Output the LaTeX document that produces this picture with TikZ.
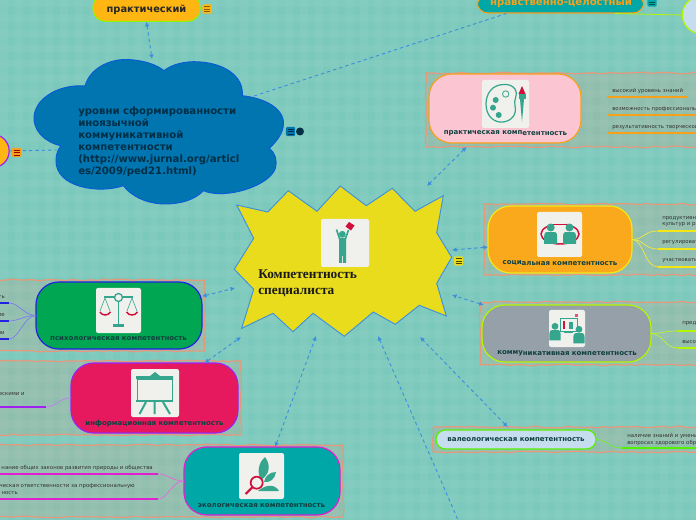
\documentclass[tikz,border=0pt]{standalone}
\usepackage{fontspec}
\setmainfont{DejaVu Sans}
\newfontfamily\ctrfont{Liberation Serif}
\usetikzlibrary{arrows.meta,decorations.pathmorphing,calc}
\definecolor{bg}{HTML}{7BC8BC}
\definecolor{lnkc}{HTML}{3F90DC}
\definecolor{framec}{HTML}{E8987A}
\definecolor{tealic}{HTML}{36A58E}
\definecolor{redic}{HTML}{D0103A}
\definecolor{paper}{HTML}{F0F0EC}
\definecolor{dark}{HTML}{10403F}
\definecolor{cloudc}{HTML}{0075B0}
\definecolor{clouddk}{HTML}{0A5BD8}
\definecolor{ambr}{HTML}{FFB612}
\definecolor{socc}{HTML}{FBA91C}
\definecolor{star}{HTML}{E8DC1C}
\definecolor{teal2}{HTML}{00A7A7}
\definecolor{ornge}{HTML}{F7A01C}
\definecolor{yel}{HTML}{F5E616}
\definecolor{limec}{HTML}{B4F500}
\definecolor{grn}{HTML}{55F000}
\definecolor{blu}{HTML}{2222E0}
\definecolor{prp}{HTML}{A020F0}
\definecolor{mgnt}{HTML}{E020D0}
\definecolor{pinkc}{HTML}{FCC5D2}
\definecolor{grayc}{HTML}{95A0A8}
\definecolor{paleb}{HTML}{C5DDEE}
\definecolor{psyc}{HTML}{00A651}
\definecolor{infc}{HTML}{E6195E}
\tikzset{
  x=0.75pt,y=-0.75pt,
  lnk/.style={draw=lnkc,line width=.7pt,dash pattern=on 2.6pt off 2.2pt},
  lnkb/.style={lnk,{Latex[length=3.4pt,width=3.6pt]}-{Latex[length=3.4pt,width=3.6pt]}},
  frm/.style={draw=framec,line width=.9pt,fill=framec,fill opacity=.2,draw opacity=1,inner sep=0pt,outer sep=0pt,
     decorate,decoration={random steps,segment length=4.5pt,amplitude=.6pt}},
  comp/.style={draw=#1,line width=.9pt,rounded corners=17pt,inner sep=0pt,outer sep=0pt},
  ttl/.style={text=dark,font=\bfseries\fontsize{5.25pt}{6pt}\selectfont,inner sep=0pt},
  sm/.style={text=black!80,font=\fontsize{4.05pt}{5pt}\selectfont,inner sep=0pt,align=left},
  iconbg/.style={fill=paper,draw=none,rounded corners=1.5pt},
  ic/.style={draw=tealic,line width=.9pt},
  notebox/.style={fill=#1,draw=none,rounded corners=1pt,minimum width=7pt,minimum height=7pt,inner sep=0pt},
}
\newcommand{\notelines}[2]{\foreach \dy in {-2.5,0,2.5}{\draw[#2,line width=.55pt] ($(#1)+(-3,\dy)$)--($(#1)+(3,\dy)$);}}
\newcommand{\pers}[3]{\begin{scope}[shift={(#1,#2)},scale=#3]
  \fill[tealic] (0,-5.5) circle (4);
  \fill[tealic] (-6.5,11) -- (-6.5,3) .. controls (-6.5,-2) and (-3,-1) .. (0,-1) .. controls (3,-1) and (6.5,-2) .. (6.5,3) -- (6.5,11) -- cycle;
\end{scope}}
\begin{document}
\begin{tikzpicture}
\pgfmathsetseed{7}
\clip (0,0) rectangle (696,520);
\fill[bg] (0,0) rectangle (696,520);
\foreach \i in {0,...,46}{\fill[white,opacity=.04] (\i*15,0) rectangle ++(7.5,520);}
\foreach \i in {0,...,34}{\fill[white,opacity=.04] (0,\i*15) rectangle ++(696,7.5);}

% frames
\node[frm,minimum width=205.5pt,minimum height=55.5pt] (fprac) at (563,110) {};
\node[frm,minimum width=162pt,minimum height=53.25pt] (fsoc) at (592,239.5) {};
\node[frm,minimum width=165pt,minimum height=47.25pt] (fcomm) at (590,333.5) {};
\node[frm,minimum width=200pt,minimum height=18.75pt] (fval) at (566.5,439.5) {};
\node[frm,minimum width=157.5pt,minimum height=53.25pt] (fpsy) at (100,315.5) {};
\node[frm,minimum width=184.5pt,minimum height=55.5pt] (finf) at (118,398) {};
\node[frm,minimum width=261pt,minimum height=54pt] (feco) at (169,481) {};

% top nodes
\node[fill=ambr,draw=limec!80!green,line width=.8pt,rounded corners=9pt,minimum width=80.25pt,minimum height=20pt,inner sep=0pt] (prak) at (146.5,8) {};
\node[font=\bfseries\fontsize{7.4pt}{8pt}\selectfont,text=black!85,inner sep=0pt] (prakt) at (146.5,9.5) {практический};
\node[fill=teal2,draw=ornge,line width=.8pt,rounded corners=8pt,minimum width=125pt,minimum height=13.5pt,inner sep=0pt] (nrav) at (560.5,4) {};
\node[font=\bfseries\fontsize{7.6pt}{8pt}\selectfont,text=ornge,inner sep=0pt] (nravt) at (561,2.5) {нравственно-целостный};
\node[circle,fill=ambr,draw=prp,line width=.9pt,minimum size=25pt,inner sep=0pt] (leftc) at (-7.5,151) {};
\node[circle,fill=paleb,draw=limec,line width=.9pt,minimum size=28pt,inner sep=0pt] (rightc) at (701,15) {};

% named ends
\coordinate (cl-top) at (152,59);
\coordinate (cl-r) at (254,96);
\coordinate (cl-l) at (57,150);
\coordinate (s-prac) at (427,186);
\coordinate (s-soc) at (452,250);
\coordinate (s-comm) at (452,295);
\coordinate (s-psy) at (235,288);
\coordinate (s-inf) at (241,337);
\coordinate (s-eco) at (316,336);
\coordinate (s-val) at (420,337);
\coordinate (s-bot) at (378,336);
\coordinate (bot-end) at (458,520);

% connectors under shapes
\draw[lnkb] (prak.south) -- (cl-top);
\draw[lnk] (cl-r) -- (nrav.190);
\draw[lnk] (leftc.east) -- (cl-l);
\draw[limec,line width=.6pt] (nrav.350) -- (rightc.west);

% cloud
\path[fill=cloudc,draw=clouddk,line width=.7pt] (85,86)
  .. controls (90,68) and (110,59) .. (127,59.5)
  .. controls (142,60) and (156,64) .. (164,70.7)
  .. controls (172,64) and (186,61) .. (198,61.8)
  .. controls (224,63) and (244,76) .. (242.3,95.7)
  .. controls (264,98) and (284,108) .. (283.5,124)
  .. controls (283,134) and (276,142) .. (269.3,148.3)
  .. controls (276,154) and (277,160) .. (275.5,168)
  .. controls (270,186) and (225,200) .. (203.3,190.7)
  .. controls (195,200) and (180,204) .. (165,204)
  .. controls (148,204) and (132,197) .. (123.3,185.7)
  .. controls (100,194) and (55,188) .. (56,160)
  .. controls (56,154) and (58,150) .. (60.7,145.7)
  .. controls (44,142) and (33,130) .. (34,116.5)
  .. controls (36,96) and (62,84) .. (85,86) -- cycle;
\node[anchor=north west,inner sep=0pt,align=left,text=cloudc!40!black,font=\bfseries\fontsize{7.6pt}{9pt}\selectfont] (cloudt) at (78,106.5) {уровни сформированности\\иноязычной\\коммуникативной\\компетентности\\(http://www.jurnal.org/articl\\es/2009/ped21.html)};

% star
\path[fill=star,draw=lnkc,line width=.7pt] (236.7,205)--(267.7,212)--(288.3,190.7)--(317,211.3)--(340.3,186)--(366.3,205.7)--(392.3,188.3)--(415,211.3)--(443.3,195.7)--(436.7,232.7)--(451.7,257.3)--(436.7,283.3)--(446.3,316)--(419.3,305.3)--(395.3,324.3)--(373.3,312)--(344.3,336.3)--(313,313.3)--(293,331.7)--(273,313.3)--(241.7,328.3)--(253.7,289.3)--(234.3,269.3)--(253.7,238.3)--cycle;
\node[anchor=north west,inner sep=0pt,align=left,text=black!90,font=\ctrfont\bfseries\fontsize{10pt}{12pt}\selectfont] (ctr) at (258,270) {Компетентность\\специалиста};

% branches
\draw[ornge,line width=1.5pt] (607,97.5)--(688,97.5) (607,115)--(700,115) (607,133)--(700,133);

% competence boxes
\node[comp=ornge,fill=pinkc,minimum width=114pt,minimum height=51.75pt] (prac) at (505,108.5) {};
\node[comp=yel,fill=socc,minimum width=108pt,minimum height=50.25pt] (soc) at (560,239.5) {};
\node[comp=limec,fill=grayc,minimum width=126.75pt,minimum height=42.75pt] (comm) at (566.5,333.5) {};
\node[comp=grn,fill=paleb,rounded corners=7pt,minimum width=120pt,minimum height=14.25pt] (val) at (516,439.5) {};
\node[comp=blu,fill=psyc,minimum width=124.5pt,minimum height=50.25pt] (psy) at (119,315.5) {};
\node[comp=prp,fill=infc,minimum width=125.25pt,minimum height=52.5pt] (inf) at (154.5,398) {};
\node[comp=mgnt,fill=teal2,minimum width=117pt,minimum height=51pt] (eco) at (262,481) {};

% remaining links
\draw[lnkb] (fprac.201) -- (s-prac);
\draw[lnkb] (soc.186) -- (s-soc);
\draw[lnkb] (comm.161.6) -- (s-comm);
\draw[lnkb] (psy.13) -- (s-psy);
\draw[lnkb] (inf.35) -- (s-inf);
\draw[lnkb] (eco.69) -- (s-eco);
\draw[lnkb] (fval.168.2) -- (s-val);
\draw[lnk,{Latex[length=3.4pt,width=3.6pt]}-] (s-bot) -- (bot-end);

% titles
\node[ttl] (t1) at (505.5,133.5) {практическая комп\raisebox{-.7pt}{етентность}};
\node[ttl] (t2) at (560,263.5) {соци\raisebox{-.7pt}{альная компетентность}};
\node[ttl] (t3) at (567,353) {комму\raisebox{-.7pt}{никативная компетентность}};
\node[ttl] (t4) at (516,439.5) {валеологическая компетентность};
\node[ttl] (t5) at (118.5,339) {психологическая компетентность};
\node[ttl] (t6) at (154.5,424) {информационная компетентность};
\node[ttl] (t7) at (261.5,505.5) {экологическая компетентность};

% side branches right
\foreach \a/\xb/\yb/\e in {soc/658/231/yel,soc/658/249/yel,soc/658/267/yel,comm/678/331/limec,comm/678/348/limec,val/622/448/grn}{
  \draw[draw=\e!85!white,line width=.5pt] (\a.east) .. controls +(12,0) and +(-14,0) .. (\xb,\yb);
  \draw[draw=\e,line width=1.6pt] (\xb,\yb) -- (700,\yb);
}
% side branches left
\foreach \yb in {303,321,339}{
  \draw[draw=blu!60!white,line width=.5pt] (psy.west) .. controls +(-12,0) and +(10,0) .. (9,\yb);
  \draw[draw=blu,line width=1.5pt] (9,\yb) -- (-5,\yb);
}
\draw[draw=prp!60!white,line width=.5pt] (inf.west) .. controls +(-12,0) and +(10,0) .. (46,407);
\draw[draw=prp,line width=1.5pt] (46,407) -- (-5,407);
\draw[draw=mgnt!70!white,line width=.5pt] (eco.west) .. controls +(-12,0) and +(10,0) .. (158,474);
\draw[draw=mgnt!70!white,line width=.5pt] (eco.west) .. controls +(-12,0) and +(10,0) .. (158,499);
\draw[draw=mgnt,line width=1.6pt] (158,474) -- (-5,474);
\draw[draw=mgnt,line width=1.6pt] (158,499) -- (-5,499);

% small texts
\node[sm,anchor=west] (a1) at (612,91) {высокий уровень знаний};
\node[sm,anchor=west] (a2) at (612,109) {возможность профессиональн};
\node[sm,anchor=west] (a3) at (612,127) {результативность творческой};
\node[sm,anchor=west] (b1) at (662,221.5) {продуктивно\\культур и ра};
\node[sm,anchor=west] (b2) at (662,243) {регулировать};
\node[sm,anchor=west] (b3) at (662,261) {участвовать};
\node[sm,anchor=west] (c1) at (682,324) {предс};
\node[sm,anchor=west] (c2) at (682,342) {высо};
\node[sm,anchor=west] (d1) at (627,439.5) {наличие знаний и умени\\вопросах здорового обр};
\node[sm,anchor=east] (e1) at (5,297) {ть};
\node[sm,anchor=east] (e2) at (5,315) {ие};
\node[sm,anchor=east] (e3) at (5,333) {ми};
\node[sm,anchor=east] (f1) at (25,394) {ескими и};
\node[sm,anchor=east] (g1) at (153,468) {нание общих законов развития природы и общества};
\node[sm,anchor=east] (g2) at (135,486) {ческая ответственности за профессиональную};
\node[sm,anchor=east] (g3) at (18,493) {ность};

% note markers
\node[notebox=ambr] (n1) at (207,9) {}; \notelines{n1}{ambr!50!black}
\node[notebox=teal2] (n2) at (652,2) {}; \notelines{n2}{teal2!50!black}
\node[notebox=ornge] (n3) at (16.5,152.5) {}; \notelines{n3}{red!60!black}
\node[notebox=star] (n4) at (458.5,261) {}; \notelines{n4}{star!30!black}
\node[notebox=cloudc] (n5) at (290.5,131.5) {}; \notelines{n5}{cloudc!40!black}
\node[circle,fill=cloudc!40!black,minimum size=6pt,inner sep=0pt] (n6) at (300,131.5) {};

% icons
\path[iconbg] (482,80) rectangle (529,128);
\draw[ic] (505,84.5) .. controls (492,84) and (486,94) .. (486,104) .. controls (486,116) and (494,123) .. (503,122) .. controls (512,121) and (517,114) .. (515,106) .. controls (513,100) and (519,94) .. (515,89) .. controls (512,85) and (508,84.5) .. (505,84.5) -- cycle;
\draw[ic,line width=.6pt] (505.7,94) circle (3.2);
\fill[tealic] (495.7,100) circle (3) (493,107.7) circle (3) (498.7,115) circle (3);
\fill[redic] (522,86) -- (525.5,94) -- (518.5,94) -- cycle;
\fill[tealic] (518.5,94) rectangle (525.5,99);
\fill[tealic] (520,99) -- (524,99) -- (522,122) -- cycle;

\path[iconbg] (537,212) rectangle (582,257);
\draw[redic,line width=1.1pt] (560,234) ellipse (19 and 10);
\fill[paper] (553,222) rectangle (566,226.5);
\draw[redic,line width=1pt] (553,224.5) -- (566,224.5);
\pers{550.7}{233}{1}
\pers{569.5}{233}{1}

\path[iconbg] (549,310) rectangle (585,347);
\draw[tealic,line width=.6pt,fill=paper] (560,318) rectangle (577,331);
\draw[redic,line width=.8pt] (564,321) -- (564,329);
\fill[tealic] (569,322) rectangle (573,329);
\draw[tealic,line width=.8pt] (564,332.5) -- (573,332.5);
\fill[redic!70!white] (575,314) rectangle (578,317);
\pers{555}{331}{.85}
\pers{579}{334}{.85}

\path[iconbg] (96,288) rectangle (141,333);
\draw[ic,line width=1.1pt] (104,297) -- (133,297);
\draw[ic,line width=1.2pt] (118.5,301) -- (118.5,324);
\fill[tealic] (113,324) rectangle (124,327);
\draw[ic,line width=1pt,fill=paper] (118.5,297.5) circle (4);
\draw[ic,line width=.45pt] (100,311) -- (105,298) -- (110,311) (127,311) -- (132,298) -- (137,311);
\draw[redic,line width=1.1pt] (100,312) .. controls (102,316) and (108,316) .. (110.5,312);
\draw[redic,line width=1.1pt] (126.5,312) .. controls (129,316) and (135,316) .. (137.5,312);

\path[iconbg] (131,369) rectangle (179,417);
\fill[tealic] (136,376) rectangle (173,379) (150,376) -- (155,372) -- (160,376) -- cycle;
\draw[ic,line width=.7pt] (137.5,379) rectangle (172.5,400);
\fill[tealic] (136,399.5) rectangle (173,402);
\draw[ic,line width=1.5pt] (154.5,402) -- (154.5,414) (146,402) -- (139.5,414) (163,402) -- (170,414);

\path[iconbg] (239,453) rectangle (284,499);
\fill[tealic] (265,457) .. controls (258,463) and (257,473) .. (261,480) .. controls (270,474) and (271,465) .. (265,457) -- cycle;
\fill[tealic] (276,472) .. controls (270,472) and (265,476) .. (264,482) .. controls (270,483) and (275,479) .. (276,472) -- cycle;
\fill[tealic] (258,491) .. controls (266,484) and (275,484) .. (279,491) -- cycle;
\draw[redic,line width=1.3pt,fill=paper,fill opacity=.4] (256.7,482.7) circle (6);
\draw[redic,line width=1.6pt] (252.5,487) -- (245.7,494);

\path[iconbg] (321,219) rectangle (369,267);
\fill[tealic] (342.3,234.3) circle (3.4);
\fill[tealic] (339,238) rectangle (346,256) (339,256) rectangle (342,263) (343,256) rectangle (346,263);
\draw[ic,line width=1.2pt] (340,240) -- (336.5,229.5) (345,240) -- (348.5,230);
\fill[redic] (345.5,226.5) -- (349,222) -- (354.5,225.5) -- (351,230.5) -- cycle;
\end{tikzpicture}
\end{document}
